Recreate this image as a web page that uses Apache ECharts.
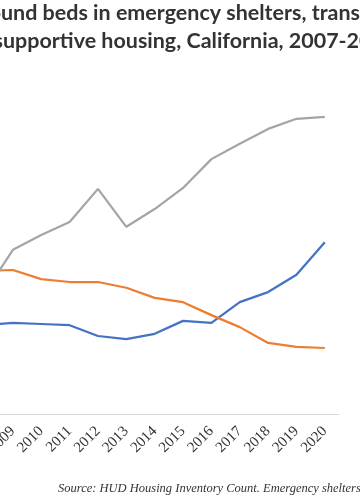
<!DOCTYPE html>
<html>
<head>
<meta charset="utf-8">
<script src="https://cdn.jsdelivr.net/npm/echarts@6/dist/echarts.min.js"></script>
<style>
html,body{margin:0;padding:0;width:360px;height:504px;overflow:hidden;background:#fff;}
#chart{position:absolute;left:-180px;top:0;width:720px;height:504px;}
</style>
</head>
<body>
<div id="chart"></div>
<script>
const years = ['2007','2008','2009','2010','2011','2012','2013','2014','2015','2016','2017','2018','2019','2020'];
const emergencyShelter = [18000, 18500, 19000, 18750, 18500, 16250, 15600, 16700, 19400, 19000, 23300, 25400, 29000, 35800];
const transitionalHousing = [29500, 29800, 30000, 28100, 27500, 27500, 26300, 24200, 23300, 20600, 18100, 14800, 14000, 13750];
const permanentSupportive = [23000, 25200, 34200, 37300, 40000, 46900, 39000, 42700, 47100, 53100, 56300, 59400, 61500, 61900];
const titleLine1 = 'Year-round beds in emergency shelters, transitional housing, and permanent';
const titleLine2 = 'supportive housing, California, 2007-2020';
const sourceText = 'Source: HUD Housing Inventory Count. Emergency shelters include year-round beds only.';

const OFFSET = 180;
const ctx = document.createElement('canvas').getContext('2d');
ctx.font = 'bold 20px Lato';
const fitSize = 20 * 359 / ctx.measureText('und beds in emergency shelters, trans').width;
const titleFont = 'bold ' + fitSize.toFixed(2) + 'px Lato';
ctx.font = titleFont;
const pre1 = ctx.measureText('Year-ro').width;
const pre2 = ctx.measureText('s').width;

const chart = echarts.init(document.getElementById('chart'), null, {renderer: 'canvas'});
const lineStyle = (c) => ({color: c, width: 2.25});
chart.setOption({
  animation: false,
  grid: {left: 122, right: 201, top: 78, bottom: 90, containLabel: false},
  xAxis: {
    type: 'category',
    data: years,
    boundaryGap: true,
    axisLine: {lineStyle: {color: '#d9d9d9', width: 1}},
    axisTick: {show: false},
    axisLabel: {rotate: 45, margin: 15, fontFamily: 'Liberation Serif', fontSize: 15, color: '#333', interval: 0}
  },
  yAxis: {
    type: 'value', min: 0, max: 70000, interval: 10000,
    axisLine: {show: false}, axisTick: {show: false},
    splitLine: {show: false},
    axisLabel: {show: false}
  },
  series: [
    {name: 'Emergency shelters', type: 'line', data: emergencyShelter, symbol: 'none', lineStyle: lineStyle('#4472c4'), itemStyle: {color: '#4472c4'}},
    {name: 'Transitional housing', type: 'line', data: transitionalHousing, symbol: 'none', lineStyle: lineStyle('#ed7d31'), itemStyle: {color: '#ed7d31'}},
    {name: 'Permanent supportive housing', type: 'line', data: permanentSupportive, symbol: 'none', lineStyle: lineStyle('#a5a5a5'), itemStyle: {color: '#a5a5a5'}}
  ],
  graphic: [
    {type: 'text', x: OFFSET + 1 - pre1, y: 13, style: {text: titleLine1, font: titleFont, fill: '#333', verticalAlign: 'middle'}},
    {type: 'text', x: OFFSET + 3 - pre2, y: 41, style: {text: titleLine2, font: titleFont, fill: '#333', verticalAlign: 'middle'}},
    {type: 'text', x: OFFSET + 58, y: 489, style: {text: sourceText, font: 'italic 12.5px "Liberation Serif"', fill: '#333', verticalAlign: 'middle'}}
  ]
});
</script>
</body>
</html>
